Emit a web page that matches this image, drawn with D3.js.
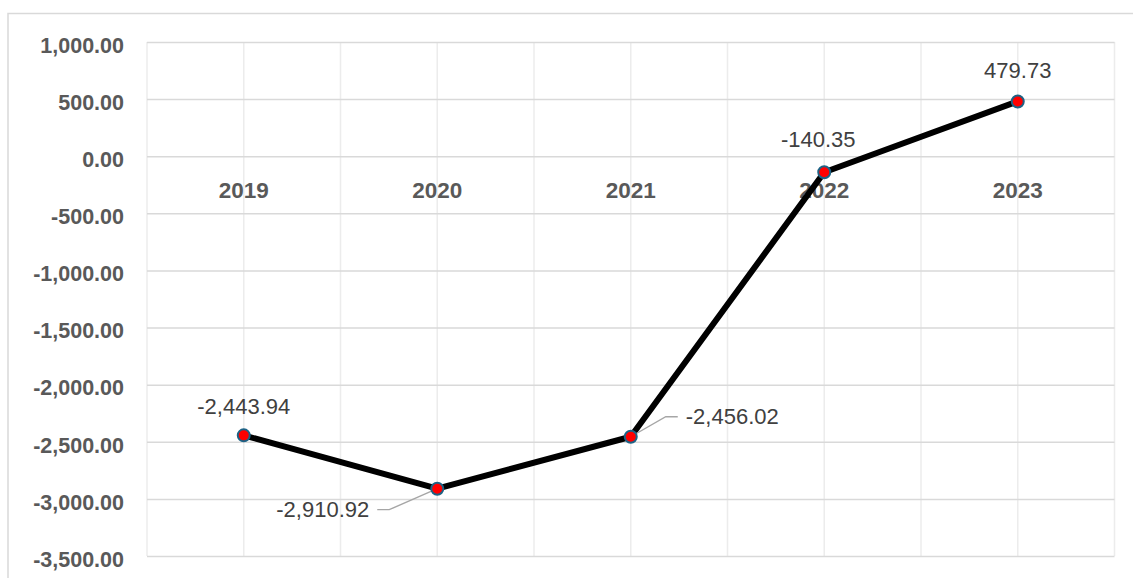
<!DOCTYPE html>
<html>
<head>
<meta charset="utf-8">
<script src="https://cdn.jsdelivr.net/npm/d3@7"></script>
<style>
  html, body { margin: 0; padding: 0; background: #fff; }
  svg { display: block; font-family: "Liberation Sans", Arial, sans-serif; }
</style>
</head>
<body>
<svg id="chart" width="1133" height="578"></svg>
<script>
// Annual values
const years = ["2019", "2020", "2021", "2022", "2023"];
const values = [-2443.94, -2910.92, -2456.02, -140.35, 479.73];
const yTicks = [1000, 500, 0, -500, -1000, -1500, -2000, -2500, -3000, -3500];

const svg = d3.select("#chart");
const W = 1133, H = 578;
const plot = { left: 147, right: 1114.5, top: 42, bottom: 556 };

// Number format with a plain hyphen for negatives
const locale = d3.formatLocale({ decimal: ".", thousands: ",", grouping: [3], currency: ["", ""], minus: "-" });
const fmt = locale.format(",.2f");

// Outer frame (open on the right and bottom)
svg.append("path")
  .attr("d", `M8,${H + 2} L8,13.5 L${W + 2},13.5`)
  .attr("fill", "none").attr("stroke", "#d9d9d9").attr("stroke-width", 1.5);

const x = d3.scaleBand().domain(years).range([plot.left, plot.right]).padding(0);
const y = d3.scaleLinear().domain([-3500, 1000]).range([plot.bottom, plot.top]);

// Vertical gridlines: band edges and centres
const vLines = [];
years.forEach(yr => { vLines.push(x(yr)); vLines.push(x(yr) + x.bandwidth() / 2); });
vLines.push(plot.right);
svg.append("g").selectAll("line").data(vLines).join("line")
  .attr("x1", d => d).attr("x2", d => d)
  .attr("y1", plot.top).attr("y2", plot.bottom)
  .attr("stroke", "#ececec").attr("stroke-width", 1.5);

// Horizontal gridlines + y axis labels
const yAxis = d3.axisLeft(y).tickValues(yTicks)
  .tickSize(-(plot.right - plot.left))
  .tickFormat(fmt);
const gy = svg.append("g").attr("transform", `translate(${plot.left},0)`).call(yAxis);
gy.select(".domain").remove();
gy.selectAll(".tick line").attr("stroke", "#d9d9d9").attr("stroke-width", 1.5);
gy.selectAll(".tick text")
  .attr("x", -23).attr("dy", "0.48em")
  .attr("fill", "#595959")
  .style("font-size", "21.5px").style("font-weight", "bold");

// Category labels just below the zero line
const xAxis = d3.axisBottom(x).tickSize(0);
const gx = svg.append("g").attr("transform", `translate(0,${y(0)})`).call(xAxis);
gx.select(".domain").remove();
gx.selectAll(".tick text")
  .attr("dy", 0).attr("y", 41.5)
  .attr("fill", "#595959")
  .style("font-size", "22.5px").style("font-weight", "bold");

const cx = (i) => x(years[i]) + x.bandwidth() / 2;
const data = years.map((yr, i) => ({ yr, v: values[i], i }));

// Series line
svg.append("path")
  .datum(data)
  .attr("fill", "none").attr("stroke", "#000").attr("stroke-width", 6)
  .attr("stroke-linejoin", "round")
  .attr("d", d3.line().x(d => cx(d.i)).y(d => y(d.v)));

// Label placement per point
const labelCfg = [
  { dx: 0, dy: -29, anchor: "middle" },
  { dx: -68, dy: 21, anchor: "end", leader: true },
  { dx: 55, dy: -20, anchor: "start", leader: true },
  { dx: -6, dy: -33, anchor: "middle" },
  { dx: 0, dy: -31, anchor: "middle" }
];

// Leader lines for shifted labels
data.forEach(d => {
  const c = labelCfg[d.i];
  if (!c.leader) return;
  const px = cx(d.i), py = y(d.v);
  const lx = px + c.dx, ly = py + c.dy;
  let pts;
  if (c.anchor === "end") pts = [[lx + 8, ly], [lx + 20, ly], [px, py]];
  else pts = [[px, py], [lx - 20, ly], [lx - 8, ly]];
  svg.append("path")
    .attr("d", d3.line()(pts))
    .attr("fill", "none").attr("stroke", "#a6a6a6").attr("stroke-width", 1.3);
});

// Markers
svg.append("g").selectAll("circle").data(data).join("circle")
  .attr("cx", d => cx(d.i)).attr("cy", d => y(d.v)).attr("r", 6)
  .attr("fill", "#ff0000").attr("stroke", "#1d6285").attr("stroke-width", 2);

// Value labels
svg.append("g").selectAll("text").data(data).join("text")
  .attr("x", d => cx(d.i) + labelCfg[d.i].dx)
  .attr("y", d => y(d.v) + labelCfg[d.i].dy)
  .attr("dy", "0.35em")
  .attr("text-anchor", d => labelCfg[d.i].anchor)
  .attr("fill", "#404040")
  .style("font-size", "22px")
  .text(d => fmt(d.v));
</script>
</body>
</html>
